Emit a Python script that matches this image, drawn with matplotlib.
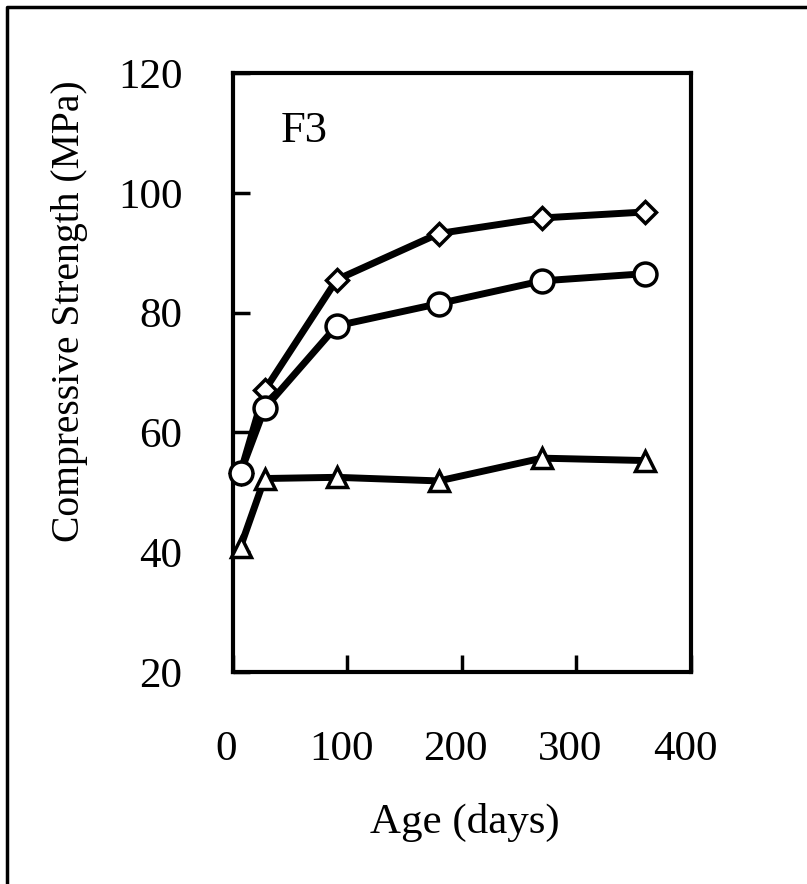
import matplotlib
matplotlib.use("Agg")
import matplotlib.pyplot as plt
import matplotlib.transforms as mtransforms
from matplotlib.lines import Line2D

plt.rcParams['font.family'] = ['Liberation Serif', 'DejaVu Serif']

# age in days
AGE = [7, 28, 91, 180, 270, 360]
# compressive strength (MPa)
DIAMOND = [53.3, 67.0, 85.5, 93.2, 95.8, 96.8]
CIRCLE = [53.3, 64.0, 77.8, 81.5, 85.3, 86.5]
TRIANGLE = [40.9, 52.3, 52.5, 51.9, 55.7, 55.3]

W, H = 807, 884
fig = plt.figure(figsize=(W / 100, H / 100), dpi=100)
ax = fig.add_axes([232.5 / W, 1 - 672 / H, (691 - 232.5) / W, (672 - 73) / H])

style = dict(color='black', lw=5, markerfacecolor='white', markeredgecolor='black',
             markeredgewidth=2.5, clip_on=False)
ax.plot(AGE, DIAMOND, marker='D', markersize=11, zorder=3, **style)
ax.plot(AGE, CIRCLE, marker='o', markersize=16.5, zorder=4, **style)
ax.plot(AGE, TRIANGLE, marker='^', markersize=15, zorder=5, **style)

ax.set_xlim(0, 400)
ax.set_ylim(20, 120)
ax.set_xticks([0, 100, 200, 300, 400])
ax.set_yticks([20, 40, 60, 80, 100, 120])
ax.tick_params(direction='in', length=12, width=2.5, labelsize=31)
ax.tick_params(axis='y', pad=36)
ax.tick_params(axis='x', pad=42)
for s in ax.spines.values():
    s.set_linewidth(3)

# x tick labels sit a little left of their ticks in the original
shift = mtransforms.ScaledTranslation(-6 / 100, 0, fig.dpi_scale_trans)
for lab in ax.get_xticklabels():
    lab.set_transform(lab.get_transform() + shift)

ax.set_xlabel('Age (days)', fontsize=31)
ax.xaxis.set_label_coords(0.507, -0.218)
ax.set_ylabel('Compressive Strength (MPa)', fontsize=28.5)
ax.yaxis.set_label_coords(-0.315, 0.603)
ax.text(0.104, 0.903, 'F3', transform=ax.transAxes, fontsize=32, va='center', ha='left')

# outer frame (top and left edges visible)
fx, fy = 7 / W, 1 - 7 / H
fig.add_artist(Line2D([fx, fx, 1.0], [0.0, fy, fy], transform=fig.transFigure,
                      color='black', lw=2.5))

fig.savefig('out.png', dpi=100)
